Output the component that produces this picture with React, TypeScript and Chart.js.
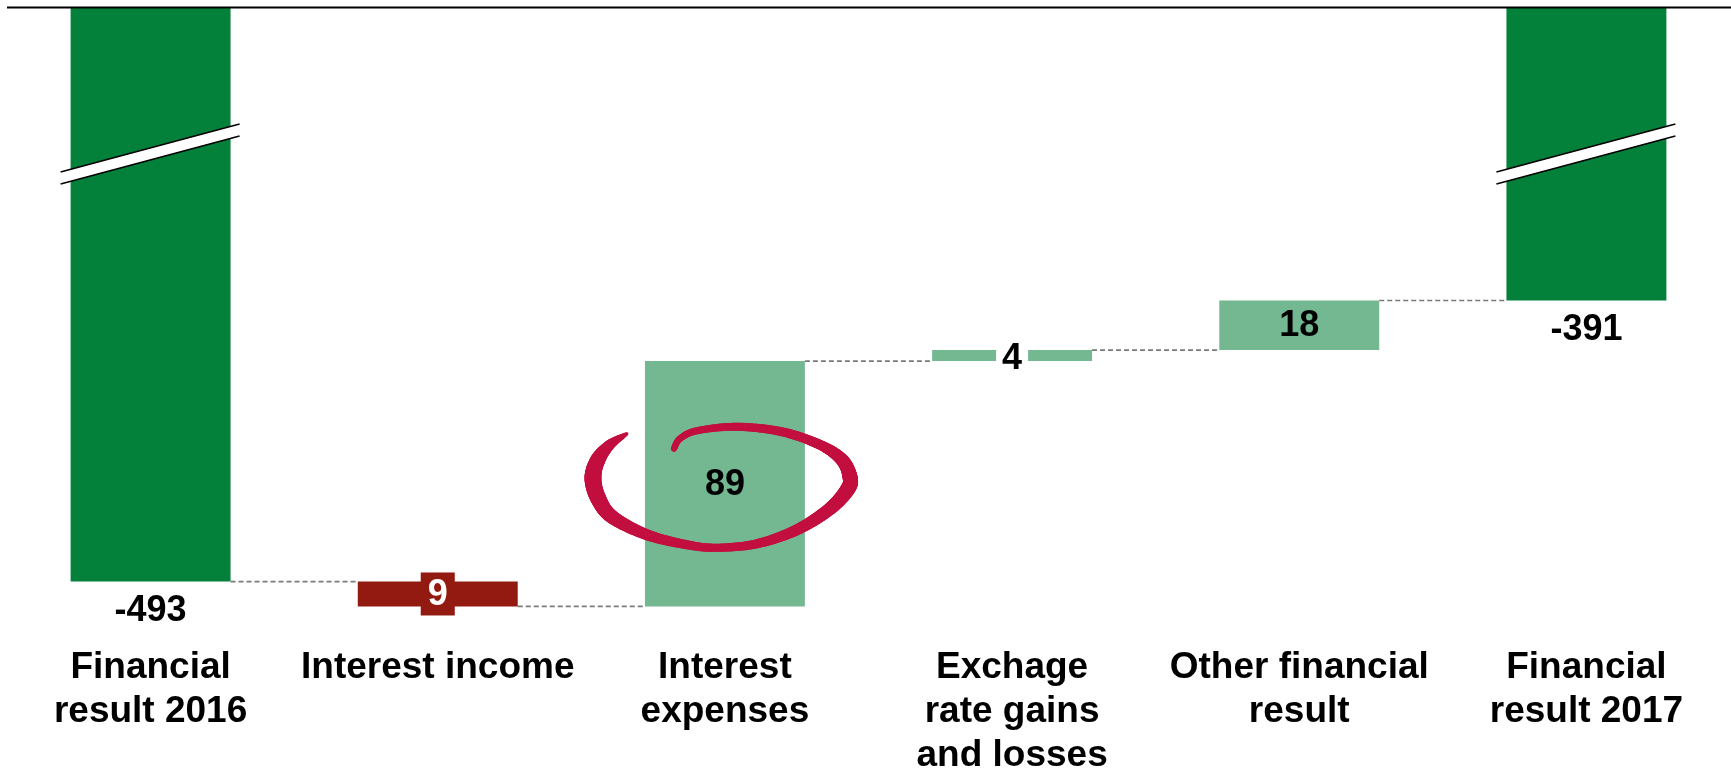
import React, { useEffect, useRef } from "react";
import { Chart, registerables } from "chart.js";

Chart.register(...registerables);

const categories: (string | string[])[] = [
  ["Financial", "result 2016"],
  "Interest income",
  ["Interest", "expenses"],
  ["Exchage", "rate gains", "and losses"],
  ["Other financial", "result"],
  ["Financial", "result 2017"],
];
const startTotal = -493;
const changes = [-9, 89, 4, 18];
const endTotal = -391;
const valueLabels = ["-493", "9", "89", "4", "18", "-391"];
const barColors = ["#038039", "#921A10", "#74B892", "#74B892", "#74B892", "#038039"];
const yMin = -514.2;
const yMax = -284.5;

const ranges: [number, number][] = [];
ranges.push([0, startTotal]);
let running = startTotal;
for (const c of changes) {
  ranges.push([running, running + c]);
  running += c;
}
ranges.push([0, endTotal]);

const FONT = '"Liberation Sans", Arial, Helvetica, sans-serif';

// hand-drawn ellipse stroke: [dx, dy, width] relative to its centre
const swoosh: [number, number, number][] = [
  [-95, -53, 2.5],
  [-112, -42, 10],
  [-124, -27, 15],
  [-129, -9, 17],
  [-124, 11, 16],
  [-110, 30, 14],
  [-75, 48, 11],
  [-35, 58, 9],
  [-5, 61, 8],
  [35, 57, 9],
  [75, 43, 11],
  [108, 22, 13],
  [126, 2, 15],
  [128, -10, 15],
  [120, -27, 13],
  [98, -42, 10],
  [60, -55, 9],
  [15, -60, 8],
  [-25, -56, 7],
  [-42, -48, 6.5],
  [-48, -38, 6],
];

function catmull(p0: number, p1: number, p2: number, p3: number, t: number) {
  const t2 = t * t, t3 = t2 * t;
  return 0.5 * (2 * p1 + (-p0 + p2) * t + (2 * p0 - 5 * p1 + 4 * p2 - p3) * t2 + (-p0 + 3 * p1 - 3 * p2 + p3) * t3);
}

const decoPlugin = {
  id: "waterfallDeco",
  beforeDatasetsDraw(chart: any) {
    const ctx = chart.ctx;
    const meta = chart.getDatasetMeta(0);
    const ys = chart.scales.y;
    ctx.save();
    ctx.strokeStyle = "#7a7a7a";
    ctx.lineWidth = 1.6;
    ctx.setLineDash([5, 3]);
    for (let i = 0; i < meta.data.length - 1; i++) {
      const a = meta.data[i];
      const b = meta.data[i + 1];
      const py = ys.getPixelForValue(ranges[i][1]);
      ctx.beginPath();
      ctx.moveTo(a.x + a.width / 2, py);
      ctx.lineTo(b.x - b.width / 2, py);
      ctx.stroke();
    }
    ctx.restore();
  },
  afterDatasetsDraw(chart: any) {
    const ctx = chart.ctx;
    const meta = chart.getDatasetMeta(0);
    const ys = chart.scales.y;
    const area = chart.chartArea;
    ctx.save();

    // top line
    ctx.strokeStyle = "#000";
    ctx.lineWidth = 2;
    ctx.beginPath();
    ctx.moveTo(area.left, area.top + 0.5);
    ctx.lineTo(chart.width, area.top + 0.5);
    ctx.stroke();

    // break marks on the total bars
    for (const i of [0, meta.data.length - 1]) {
      const el = meta.data[i];
      const x0 = el.x - el.width / 2 - 10;
      const x1 = el.x + el.width / 2 + 9;
      const yL = area.top + 165;
      const yR = area.top + 117;
      const gap = 12;
      ctx.fillStyle = "#fff";
      ctx.beginPath();
      ctx.moveTo(x0, yL);
      ctx.lineTo(x1, yR);
      ctx.lineTo(x1, yR + gap);
      ctx.lineTo(x0, yL + gap);
      ctx.closePath();
      ctx.fill();
      ctx.strokeStyle = "#000";
      ctx.lineWidth = 1.6;
      ctx.beginPath();
      ctx.moveTo(x0, yL);
      ctx.lineTo(x1, yR);
      ctx.moveTo(x0, yL + gap);
      ctx.lineTo(x1, yR + gap);
      ctx.stroke();
    }

    // value labels
    ctx.font = `bold 36px ${FONT}`;
    ctx.textAlign = "center";
    ctx.textBaseline = "middle";
    const last = meta.data.length - 1;
    meta.data.forEach((el: any, i: number) => {
      const [s, e] = ranges[i];
      const label = valueLabels[i];
      const x = el.x;
      if (i === 0 || i === last) {
        const py = ys.getPixelForValue(e);
        ctx.fillStyle = "#000";
        ctx.fillText(label, x, py + 30);
        return;
      }
      const p1 = ys.getPixelForValue(s);
      const p2 = ys.getPixelForValue(e);
      const cy = (p1 + p2) / 2;
      const tw = ctx.measureText(label).width;
      if (i === 1) {
        ctx.fillStyle = barColors[i];
        ctx.fillRect(x - tw / 2 - 7, cy - 21.5, tw + 14, 43);
        ctx.fillStyle = "#fff";
        ctx.fillText(label, x, cy + 1);
      } else if (Math.abs(p1 - p2) < 30) {
        ctx.fillStyle = "#fff";
        ctx.fillRect(x - tw / 2 - 6, Math.min(p1, p2) - 2, tw + 12, Math.abs(p1 - p2) + 4);
        ctx.fillStyle = "#000";
        ctx.fillText(label, x, cy + 3);
      } else {
        ctx.fillStyle = "#000";
        ctx.fillText(label, x, cy + 1);
      }
    });

    // hand-drawn ellipse around the interest expenses value
    const el3 = meta.data[2];
    const mid = (ys.getPixelForValue(ranges[2][0]) + ys.getPixelForValue(ranges[2][1])) / 2;
    const cx = el3.x - 3;
    const cy = mid + 3;
    ctx.strokeStyle = "#C20F3F";
    ctx.lineCap = "round";
    ctx.lineJoin = "round";
    const n = swoosh.length;
    for (let k = 0; k < n - 1; k++) {
      const p0 = swoosh[Math.max(0, k - 1)];
      const p1 = swoosh[k];
      const p2 = swoosh[k + 1];
      const p3 = swoosh[Math.min(n - 1, k + 2)];
      const steps = 14;
      let prevX = cx + p1[0];
      let prevY = cy + p1[1];
      for (let s = 1; s <= steps; s++) {
        const t = s / steps;
        const px = cx + catmull(p0[0], p1[0], p2[0], p3[0], t);
        const py = cy + catmull(p0[1], p1[1], p2[1], p3[1], t);
        ctx.lineWidth = p1[2] + (p2[2] - p1[2]) * t;
        ctx.beginPath();
        ctx.moveTo(prevX, prevY);
        ctx.lineTo(px, py);
        ctx.stroke();
        prevX = px;
        prevY = py;
      }
    }
    ctx.restore();
  },
};

export default function App() {
  const ref = useRef<HTMLCanvasElement>(null);
  useEffect(() => {
    const canvas = ref.current!;
    const chart = new Chart(canvas, {
      type: "bar",
      data: {
        labels: categories as any,
        datasets: [
          {
            data: ranges as any,
            backgroundColor: barColors,
            borderWidth: 0,
            barPercentage: 1,
            categoryPercentage: 0.557,
            clip: 0,
          } as any,
        ],
      },
      options: {
        responsive: false,
        animation: false,
        devicePixelRatio: 1,
        layout: { padding: { top: 7, left: 7, right: 1, bottom: 0 } },
        plugins: { legend: { display: false }, tooltip: { enabled: false } },
        scales: {
          x: {
            grid: { display: false, drawTicks: false },
            border: { display: false },
            ticks: {
              autoSkip: false,
              maxRotation: 0,
              minRotation: 0,
              padding: 6,
              color: "#000",
              font: { family: FONT, size: 37, weight: "bold", lineHeight: 1.19 },
            },
            afterFit: (axis: any) => {
              axis.height = 133;
            },
          },
          y: { display: false, min: yMin, max: yMax },
        },
      } as any,
      plugins: [decoPlugin],
    });
    return () => chart.destroy();
  }, []);
  return (
    <div style={{ position: "fixed", left: 0, top: 0, width: 1731, height: 773, background: "#fff" }}>
      <canvas ref={ref} width={1731} height={773} style={{ display: "block" }} />
    </div>
  );
}
